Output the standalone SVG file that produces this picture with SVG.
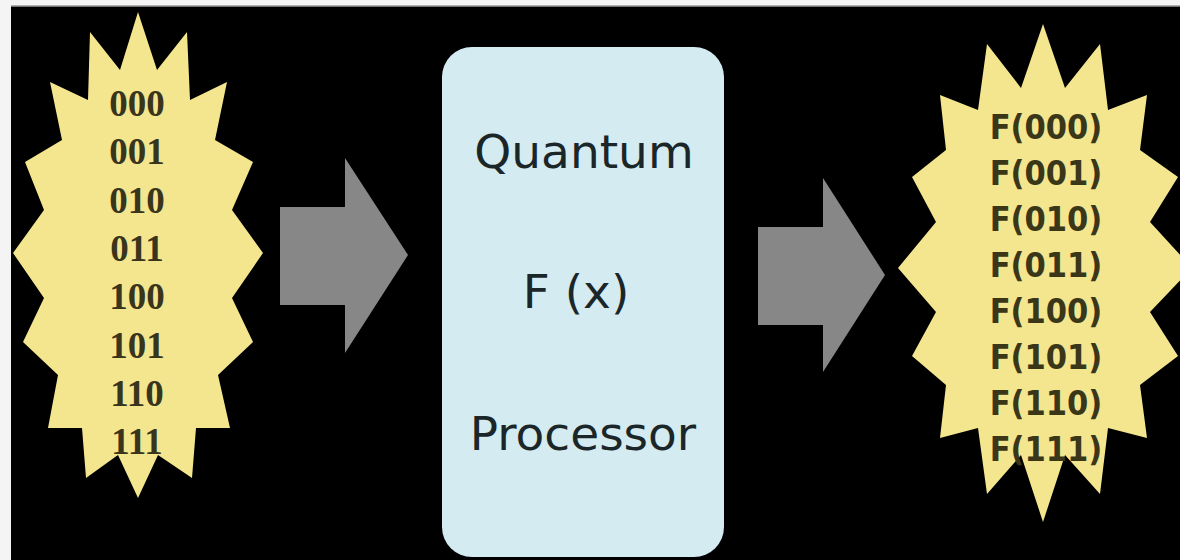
<svg xmlns="http://www.w3.org/2000/svg" width="1180" height="560" viewBox="0 0 1180 560">
<defs>
<style>
.star{fill:#f4e68f;}
.bits{font-family:"Liberation Serif","DejaVu Serif",serif;font-weight:bold;font-size:37px;fill:#38351c;text-anchor:middle;}
.fx{font-family:"DejaVu Sans Condensed","DejaVu Sans","Liberation Sans",sans-serif;font-stretch:condensed;font-weight:bold;font-size:34px;fill:#3a3719;text-anchor:middle;}
.proc{font-family:"DejaVu Sans","Liberation Sans",sans-serif;font-size:47px;fill:#1b2628;text-anchor:middle;}
.arrow{fill:#878787;}
</style>
</defs>
<rect x="0" y="0" width="1180" height="560" fill="#f4f4f4"/>
<rect x="11" y="6" width="1169" height="554" fill="#000"/>
<line x1="11" y1="6" x2="1180" y2="6" stroke="#9a9a9a" stroke-width="1.5"/>

<g id="inputs">
<polygon class="star" points="138,12 157,70 187,32 190,100 227,82 215,140 253,162 232,210 263,253 232,298 253,342 218,375 230,428 196,428 192,478 158,455 138,498 118,455 86,478 82,428 48,428 58,375 23,342 44,298 13,253 44,210 25,162 62,140 50,82 88,100 90,32 120,70"/>
<text class="bits" x="137" y="116">000</text>
<text class="bits" x="137" y="164">001</text>
<text class="bits" x="137" y="213">010</text>
<text class="bits" x="137" y="261">011</text>
<text class="bits" x="137" y="309">100</text>
<text class="bits" x="137" y="358">101</text>
<text class="bits" x="137" y="406">110</text>
<text class="bits" x="137" y="454">111</text>
</g>

<g id="processor">
<rect x="442" y="47" width="282" height="510" rx="30" ry="30" fill="#d3ebf1"/>
<text class="proc" x="584" y="168">Quantum</text>
<text class="proc" x="576" y="308">F (x)</text>
<text class="proc" x="583" y="450">Processor</text>
</g>

<g id="outputs">
<polygon class="star" points="1043,24 1065,88 1100,44 1108,110 1147,95 1140,150 1178,177 1150,222 1192,268 1150,312 1178,356 1140,385 1147,438 1108,428 1100,494 1065,455 1043,522 1021,455 987,494 978,428 940,438 946,385 912,356 936,312 898,268 936,222 912,177 946,150 940,95 978,110 987,44 1021,88"/>
<text class="fx" x="1046" y="139">F(000)</text>
<text class="fx" x="1046" y="185">F(001)</text>
<text class="fx" x="1046" y="231">F(010)</text>
<text class="fx" x="1046" y="277">F(011)</text>
<text class="fx" x="1046" y="323">F(100)</text>
<text class="fx" x="1046" y="369">F(101)</text>
<text class="fx" x="1046" y="415">F(110)</text>
<text class="fx" x="1046" y="461">F(111)</text>
</g>

<g id="connectors">
<polygon class="arrow" points="280,207 345,207 345,158 408,255 345,353 345,305 280,305"/>
<polygon class="arrow" points="758,227 823,227 823,178 885,275 823,372 823,325 758,325"/>
</g>
</svg>
